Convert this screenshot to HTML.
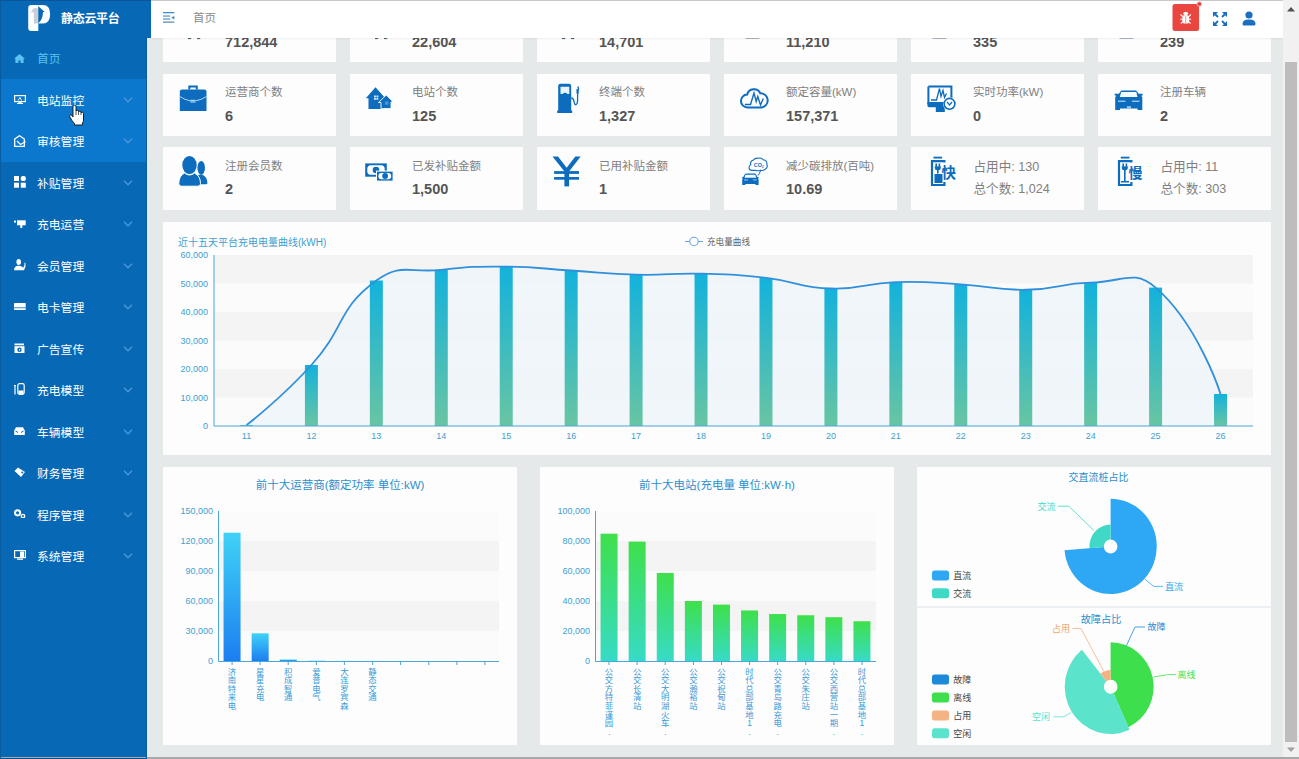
<!DOCTYPE html>
<html lang="zh-CN"><head><meta charset="utf-8"><title>静态云平台</title>
<style>
*{margin:0;padding:0;box-sizing:border-box}
html,body{width:1299px;height:759px;overflow:hidden}
body{position:relative;background:#e6e9ea;font-family:"Liberation Sans","Noto Sans CJK SC",sans-serif}
.a{position:absolute}
.side{left:0;top:0;width:147px;height:759px;background:#0768b5}
.logo{left:0;top:0;width:151px;height:38px;background:#0768b5;border-top:1px solid #0a5497}
.logo .t{left:61px;top:9.5px;font-size:12px;font-weight:bold;color:#fff;letter-spacing:-0.3px;line-height:16px}
.mi{left:0;width:147px;height:41.5px}
.mi .t{left:37px;top:13px;font-size:11.8px;line-height:16px;color:#fff;white-space:nowrap}
.mi svg.ic{position:absolute}
.mi svg.ch{position:absolute;left:122.5px;top:17.3px}
.hdr{left:151px;top:0;width:1132px;height:38px;background:#fff;border-top:1px solid #c8c8c8;box-shadow:0 1px 2px rgba(0,0,0,.06)}
.card{background:#fdfdfd;width:173px;height:62.4px}
.card .t{left:62px;top:10.5px;font-size:11.5px;line-height:16px;color:#808080;white-space:nowrap}
.card .v{left:62px;top:33px;font-size:14.5px;line-height:18px;color:#555555;font-weight:bold;white-space:nowrap}
.card .t2{left:62.5px;font-size:12.6px;line-height:16px;color:#808080;white-space:nowrap}
.card svg{position:absolute}
.panel{background:#fdfdfd}
.sb{left:1283px;top:0;width:16px;height:759px;background:#f1f1f1}
</style></head><body>

<div class="a side"></div>
<div class="a" style="left:0;top:79px;width:146px;height:83px;background:#0b77cd"></div>
<div class="a logo">
<svg class="a" style="left:24px;top:1px" width="28" height="31" viewBox="0 0 28 31">
<path d="M7.2 3 L14.3 3 L14.3 29.1 L7.2 29.1 Q4.2 29.1 4.2 26.1 L4.2 6 Q4.2 3 7.2 3 Z" fill="#fbfdff"/>
<path d="M9.9 6.3 L13.9 6.3 L13.9 21.5 L9.9 21.5 L9.9 10 L7.2 10.6 L7.2 9.4 Z" fill="#c6cfd8"/>
<path d="M14.3 3 L19 3 Q26.1 3 26.1 12.2 Q26.1 21.5 19 21.5 L14.3 21.5 Z" fill="#fbfdff"/>
<path d="M14.3 4.3 L20.5 9.8 L19 10.3 Q18.8 17.5 14.3 21.3 Z" fill="#0768b5"/>
</svg>
<div class="a t">静态云平台</div>
</div>
<div class="a mi" style="top:38.0px">
<svg class="ic" style="left:14px;top:15.7px" width="11" height="9.5" viewBox="0 0 11 9.5"><path d="M5.5 0 L11 4.8 L9.6 4.8 L9.6 9.5 L6.6 9.5 L6.6 6.5 L4.4 6.5 L4.4 9.5 L1.4 9.5 L1.4 4.8 L0 4.8 Z" fill="#5cc3f0"/></svg>
<div class="a t" style="color:#5cc3f0">首页</div>
</div>
<div class="a mi" style="top:79.5px">
<svg class="ic" style="left:14px;top:15.6px" width="12" height="9" viewBox="0 0 12 9"><rect x="0.6" y="0.6" width="10.8" height="6" fill="none" stroke="#fff" stroke-width="1.2"/><path d="M4 5.5 L6 2.5 L7.5 5.5" fill="none" stroke="#fff" stroke-width="0.9"/><rect x="4.5" y="7" width="3" height="1" fill="#fff"/><rect x="3" y="8" width="6" height="1" fill="#fff"/></svg>
<div class="a t" style="color:#fff">电站监控</div>
<svg class="ch" width="10" height="6" viewBox="0 0 10 6"><path d="M1 0.8 L5 4.8 L9 0.8" fill="none" stroke="#4a97da" stroke-width="1.4"/></svg>
</div>
<div class="a mi" style="top:121.0px">
<svg class="ic" style="left:14px;top:13.7px" width="12" height="12" viewBox="0 0 12 12"><path d="M0.7 4 L5.5 0.7 L10.3 4 L10.3 11.3 L0.7 11.3 Z" fill="none" stroke="#fff" stroke-width="1.3"/><path d="M3 6 L6.5 9.5 L11.5 6.5" fill="none" stroke="#fff" stroke-width="1.2"/></svg>
<div class="a t" style="color:#fff">审核管理</div>
<svg class="ch" width="10" height="6" viewBox="0 0 10 6"><path d="M1 0.8 L5 4.8 L9 0.8" fill="none" stroke="#4a97da" stroke-width="1.4"/></svg>
</div>
<div class="a mi" style="top:162.5px">
<svg class="ic" style="left:14px;top:13.6px" width="12" height="12" viewBox="0 0 12 12"><rect x="0" y="0" width="5" height="5" fill="#fff"/><circle cx="9.3" cy="2.5" r="2.6" fill="#fff"/><rect x="0" y="6.7" width="5" height="5" fill="#fff"/><rect x="6.8" y="6.7" width="5" height="5" fill="#fff"/></svg>
<div class="a t" style="color:#fff">补贴管理</div>
<svg class="ch" width="10" height="6" viewBox="0 0 10 6"><path d="M1 0.8 L5 4.8 L9 0.8" fill="none" stroke="#4a97da" stroke-width="1.4"/></svg>
</div>
<div class="a mi" style="top:204.0px">
<svg class="ic" style="left:14px;top:15.8px" width="12" height="8.2" viewBox="0 0 12 8.2"><rect x="0" y="0.6" width="2" height="2" fill="#fff"/><rect x="3" y="0.3" width="8.7" height="5" fill="#fff"/><rect x="6.3" y="5" width="2" height="3" fill="#fff"/></svg>
<div class="a t" style="color:#fff">充电运营</div>
<svg class="ch" width="10" height="6" viewBox="0 0 10 6"><path d="M1 0.8 L5 4.8 L9 0.8" fill="none" stroke="#4a97da" stroke-width="1.4"/></svg>
</div>
<div class="a mi" style="top:245.5px">
<svg class="ic" style="left:14px;top:13.9px" width="12" height="11.5" viewBox="0 0 12 11.5"><ellipse cx="4.7" cy="3" rx="2.3" ry="3" fill="#fff"/><path d="M0 11.3 Q0 7 4.5 6.8 Q8.5 7 9 9 L10.5 6 L10.5 3.8 L11.5 3.8 L11.5 7.5 L10 11.3 Z" fill="#fff"/></svg>
<div class="a t" style="color:#fff">会员管理</div>
<svg class="ch" width="10" height="6" viewBox="0 0 10 6"><path d="M1 0.8 L5 4.8 L9 0.8" fill="none" stroke="#4a97da" stroke-width="1.4"/></svg>
</div>
<div class="a mi" style="top:287.0px">
<svg class="ic" style="left:14px;top:15.8px" width="12" height="7.5" viewBox="0 0 12 7.5"><rect x="0" y="0" width="11.7" height="7.4" rx="0.6" fill="#fff"/><rect x="0" y="4.2" width="11.7" height="1.1" fill="#0768b5" opacity=".7"/></svg>
<div class="a t" style="color:#fff">电卡管理</div>
<svg class="ch" width="10" height="6" viewBox="0 0 10 6"><path d="M1 0.8 L5 4.8 L9 0.8" fill="none" stroke="#4a97da" stroke-width="1.4"/></svg>
</div>
<div class="a mi" style="top:328.5px">
<svg class="ic" style="left:14px;top:14.3px" width="11" height="10.5" viewBox="0 0 11 10.5"><path d="M0.5 0.5 L10 0.5 L10 2.3 L0.5 2.3 Z" fill="#fff"/><rect x="0.5" y="3.2" width="10" height="7.3" fill="#fff"/><circle cx="5.5" cy="6.8" r="2.2" fill="#0768b5"/><path d="M5 5.7 L6.6 6.8 L5 7.9 Z" fill="#fff"/></svg>
<div class="a t" style="color:#fff">广告宣传</div>
<svg class="ch" width="10" height="6" viewBox="0 0 10 6"><path d="M1 0.8 L5 4.8 L9 0.8" fill="none" stroke="#4a97da" stroke-width="1.4"/></svg>
</div>
<div class="a mi" style="top:370.0px">
<svg class="ic" style="left:14px;top:13.2px" width="11" height="12" viewBox="0 0 11 12"><path d="M1 3 L1 11.5 M0 2.5 L2 2.5" stroke="#fff" stroke-width="1.2"/><rect x="3.8" y="0.6" width="6.4" height="10.8" rx="1.8" fill="none" stroke="#fff" stroke-width="1.2"/><rect x="4.5" y="7.5" width="5" height="3.5" fill="#fff"/></svg>
<div class="a t" style="color:#fff">充电模型</div>
<svg class="ch" width="10" height="6" viewBox="0 0 10 6"><path d="M1 0.8 L5 4.8 L9 0.8" fill="none" stroke="#4a97da" stroke-width="1.4"/></svg>
</div>
<div class="a mi" style="top:411.5px">
<svg class="ic" style="left:14px;top:15.5px" width="11" height="8" viewBox="0 0 11 8"><path d="M2 0.3 L9 0.3 L10.5 3 L10.8 3 L10.8 8 L0.2 8 L0.2 3 L0.5 3 Z" fill="#fff"/><path d="M1.5 4 L4 5.5 M9.5 4 L7 5.5" stroke="#0768b5" stroke-width="1"/></svg>
<div class="a t" style="color:#fff">车辆模型</div>
<svg class="ch" width="10" height="6" viewBox="0 0 10 6"><path d="M1 0.8 L5 4.8 L9 0.8" fill="none" stroke="#4a97da" stroke-width="1.4"/></svg>
</div>
<div class="a mi" style="top:453.0px">
<svg class="ic" style="left:14px;top:14.3px" width="11.5" height="10.5" viewBox="0 0 11.5 10.5"><path d="M0.5 4 L4 0.5 L11 5 L7 10 Z" fill="#fff"/><circle cx="8.3" cy="5.6" r="1" fill="#0768b5"/></svg>
<div class="a t" style="color:#fff">财务管理</div>
<svg class="ch" width="10" height="6" viewBox="0 0 10 6"><path d="M1 0.8 L5 4.8 L9 0.8" fill="none" stroke="#4a97da" stroke-width="1.4"/></svg>
</div>
<div class="a mi" style="top:494.5px">
<svg class="ic" style="left:14px;top:14.6px" width="11.5" height="9.2" viewBox="0 0 11.5 9.2"><circle cx="3.6" cy="3.8" r="2.6" fill="none" stroke="#fff" stroke-width="2"/><circle cx="9" cy="7" r="1.7" fill="none" stroke="#fff" stroke-width="1.3"/></svg>
<div class="a t" style="color:#fff">程序管理</div>
<svg class="ch" width="10" height="6" viewBox="0 0 10 6"><path d="M1 0.8 L5 4.8 L9 0.8" fill="none" stroke="#4a97da" stroke-width="1.4"/></svg>
</div>
<div class="a mi" style="top:536.0px">
<svg class="ic" style="left:14px;top:14.3px" width="12" height="10" viewBox="0 0 12 10"><rect x="0.6" y="0.6" width="10.8" height="7" fill="none" stroke="#fff" stroke-width="1.2"/><rect x="6" y="1.5" width="4" height="5.5" fill="#fff"/><rect x="3" y="8.5" width="6" height="1.3" fill="#fff"/></svg>
<div class="a t" style="color:#fff">系统管理</div>
<svg class="ch" width="10" height="6" viewBox="0 0 10 6"><path d="M1 0.8 L5 4.8 L9 0.8" fill="none" stroke="#4a97da" stroke-width="1.4"/></svg>
</div>
<svg class="a" style="left:68.5px;top:104.5px" width="16" height="21" viewBox="0 0 16 21"><path d="M4 1.5 Q4 0.3 5.5 0.3 Q7 0.3 7 1.5 L7 6 Q7 5.2 8.2 5.2 Q9.5 5.2 9.5 6.4 L9.5 7 Q9.5 6.2 10.7 6.2 Q12 6.2 12 7.4 L12 8 Q12 7.2 13.2 7.2 Q14.5 7.2 14.5 8.4 L14.5 15 Q14.5 17 13.5 18 L13.5 20 L5.5 20 L5.5 18.5 Q4.5 17.5 3 15.5 L0.8 12 Q0.2 10.5 1.5 10 Q2.5 9.8 3.3 11 L4 12 Z" fill="#fff" stroke="#111" stroke-width="0.9"/><path d="M7 6 L7 10 M9.5 7 L9.5 10 M12 8 L12 10" stroke="#111" stroke-width="0.7"/></svg>
<div class="a card" style="left:163px;top:0.0px">
<svg style="left:0;top:0" width="60" height="62" viewBox="0 0 60 62"><rect x="25" y="37.6" width="3.2" height="1.5" fill="#4d6670"/><rect x="34" y="37.6" width="3.2" height="1.5" fill="#4d6670"/></svg>
<div class="a v">712,844</div>
</div>
<div class="a card" style="left:350px;top:0.0px">
<svg style="left:0;top:0" width="60" height="62" viewBox="0 0 60 62"><rect x="25" y="37.6" width="3.2" height="1.5" fill="#4d6670"/><rect x="34" y="37.6" width="3.2" height="1.5" fill="#4d6670"/></svg>
<div class="a v">22,604</div>
</div>
<div class="a card" style="left:537px;top:0.0px">
<svg style="left:0;top:0" width="60" height="62" viewBox="0 0 60 62"><rect x="25" y="37.6" width="3.2" height="1.5" fill="#4d6670"/><rect x="34" y="37.6" width="3.2" height="1.5" fill="#4d6670"/></svg>
<div class="a v">14,701</div>
</div>
<div class="a card" style="left:724px;top:0.0px">
<svg style="left:0;top:0" width="60" height="62" viewBox="0 0 60 62"><rect x="21.6" y="37.6" width="13.8" height="1.4" fill="#aab4bc"/></svg>
<div class="a v">11,210</div>
</div>
<div class="a card" style="left:911px;top:0.0px">
<svg style="left:0;top:0" width="60" height="62" viewBox="0 0 60 62"><rect x="21.6" y="37.6" width="13.8" height="1.4" fill="#aab4bc"/></svg>
<div class="a v">335</div>
</div>
<div class="a card" style="left:1098px;top:0.0px">
<svg style="left:0;top:0" width="60" height="62" viewBox="0 0 60 62"><rect x="21.6" y="37.6" width="13.8" height="1.4" fill="#aab4bc"/></svg>
<div class="a v">239</div>
</div>
<div class="a card" style="left:163px;top:73.5px">
<svg style="left:0;top:0" width="60" height="62" viewBox="0 0 60 62"><path d="M26.3 15.5 L26.3 12.5 L33.8 12.5 L33.8 15.5" fill="none" stroke="#0d6cbd" stroke-width="2"/><path d="M16.8 17.5 Q16.8 15.5 19 15.5 L41.3 15.5 Q43.5 15.5 43.5 17.5 L43.5 37.1 L16.8 37.1 Z" fill="#0d6cbd"/><path d="M16.8 22.5 Q22 26 27 26.8 M33 26.8 Q38 26 43.5 22.5" fill="none" stroke="#bfe3ff" stroke-width="0.9"/><rect x="27.3" y="25.8" width="5.2" height="2.7" fill="#bfe3ff"/><rect x="27.3" y="26.9" width="5.2" height="0.5" fill="#0d6cbd"/></svg>
<div class="a t">运营商个数</div>
<div class="a v">6</div>
</div>
<div class="a card" style="left:350px;top:73.5px">
<svg style="left:0;top:0" width="60" height="62" viewBox="0 0 60 62"><path d="M15.8 24.3 L25.5 13.3 L34 22.8 L34 35.1 L18.5 35.1 L18.5 24.3 Z" fill="#0d6cbd"/><path d="M28.5 28.5 L36.3 21 L43.2 28 L41 28 L41 34.6 L31 34.6 L31 28.5 Z" fill="#0d6cbd" stroke="#fff" stroke-width="0.9" stroke-linejoin="miter"/><rect x="24" y="21.5" width="1.9" height="1.9" fill="#cfe8ff"/><rect x="26.4" y="21.5" width="1.9" height="1.9" fill="#cfe8ff"/><rect x="24" y="23.9" width="1.9" height="1.9" fill="#cfe8ff"/><rect x="26.4" y="23.9" width="1.9" height="1.9" fill="#cfe8ff"/><rect x="35" y="27.5" width="3.4" height="3.2" fill="#4d97d6"/></svg>
<div class="a t">电站个数</div>
<div class="a v">125</div>
</div>
<div class="a card" style="left:537px;top:73.5px">
<svg style="left:0;top:0" width="60" height="62" viewBox="0 0 60 62"><path d="M21.2 12 Q21.2 9.8 23.4 9.8 L32 9.8 Q34.2 9.8 34.2 12 L34.2 36.5 L35.2 36.5 L35.2 39.1 L20.2 39.1 L20.2 36.5 L21.2 36.5 Z" fill="#0d6cbd"/><path d="M23.5 12.8 L32.3 12.8 L32.3 20 L30.5 20 Q28 17.5 25.5 20 L23.5 20 Z" fill="#e8f4fd"/><path d="M34.2 24 Q36.5 24 37 27.5 Q37.6 31.5 39.3 30.5 Q40.6 29.5 40.6 26 L40.6 17 L41.6 14.5 L40.8 12.5" fill="none" stroke="#0d6cbd" stroke-width="1.3"/><rect x="39.5" y="15" width="2.2" height="4.5" fill="#0d6cbd"/></svg>
<div class="a t">终端个数</div>
<div class="a v">1,327</div>
</div>
<div class="a card" style="left:724px;top:73.5px">
<svg style="left:0;top:0" width="60" height="62" viewBox="0 0 60 62"><path d="M23.5 33.4 A6.4 6.4 0 0 1 23.2 20.6 A7 7 0 0 1 36.3 19.3 A7 7 0 0 1 37 33.4 Z" fill="none" stroke="#0d6cbd" stroke-width="2"/><path d="M20.9 30.5 L26.5 30.5 L30 19 L32.2 27.5 L33.8 22.5 L36.5 31 L39.3 24.5" fill="none" stroke="#0d6cbd" stroke-width="1.4" stroke-linejoin="miter"/></svg>
<div class="a t">额定容量(kW)</div>
<div class="a v">157,371</div>
</div>
<div class="a card" style="left:911px;top:73.5px">
<svg style="left:0;top:0" width="60" height="62" viewBox="0 0 60 62"><path d="M17.4 12.6 L40.4 12.6 L40.4 28.5" fill="none" stroke="#0d6cbd" stroke-width="2"/><path d="M17.4 12.6 L17.4 30" fill="none" stroke="#0d6cbd" stroke-width="2"/><path d="M16.4 27.9 L34 27.9 L34 33.2 L18 33.2 Q16.4 33.2 16.4 31.6 Z" fill="#0d6cbd"/><rect x="24.8" y="33" width="9" height="5" fill="#0d6cbd"/><path d="M20 26 L25.5 26 L28.5 14.5 L30 22.5 L32 16.5 L33.5 23.5 L35.5 19.5" fill="none" stroke="#0d6cbd" stroke-width="1.3"/><circle cx="38.5" cy="29.8" r="6.6" fill="#fff"/><circle cx="38.5" cy="29.8" r="5.4" fill="none" stroke="#0d6cbd" stroke-width="1.6"/><path d="M36 28 L38.5 31 L41 28" fill="none" stroke="#0d6cbd" stroke-width="1.2"/></svg>
<div class="a t">实时功率(kW)</div>
<div class="a v">0</div>
</div>
<div class="a card" style="left:1098px;top:73.5px">
<svg style="left:0;top:0" width="60" height="62" viewBox="0 0 60 62"><path d="M22.5 17.5 Q23 16.6 24 16.6 L37.5 16.6 Q38.5 16.6 39 17.5 L40.6 19.7 L44.7 19.7 L44.7 21.5 L43.3 21.5 L44.3 23.5 L44.3 36 L39.5 36 L39.5 34.4 L22 34.4 L22 36 L17.2 36 L17.2 23.5 L18.2 21.5 L16.7 21.5 L16.7 19.7 L20.9 19.7 Z" fill="#0d6cbd"/><path d="M23.2 18 L38.3 18 L39.5 23 L21.8 23 Z" fill="#f2f9ff"/><rect x="20" y="26.6" width="7.5" height="1.3" fill="#9fd0f5"/><rect x="34" y="26.6" width="7.5" height="1.3" fill="#9fd0f5"/><rect x="29" y="32.3" width="4" height="2" fill="#9fd0f5"/></svg>
<div class="a t">注册车辆</div>
<div class="a v">2</div>
</div>
<div class="a card" style="left:163px;top:147.3px">
<svg style="left:0;top:0" width="60" height="62" viewBox="0 0 60 62"><ellipse cx="38.2" cy="20.8" rx="3.8" ry="6.9" fill="#0d6cbd"/><path d="M33 30 Q37 26.5 40 28 Q44.4 30.5 44.4 36 Q44.4 37.2 43.2 37.2 L36 37.2 Z" fill="#0d6cbd"/><ellipse cx="26.5" cy="18.1" rx="7.2" ry="9" fill="#0d6cbd" stroke="#fff" stroke-width="1"/><path d="M21.5 26 Q24 28 26.5 28 Q29 28 31.5 26 Q37.5 29 37.5 36.5 Q37.5 39.2 35 39.2 L18.3 39.2 Q15.8 39.2 15.8 36.5 Q15.8 29 21.5 26 Z" fill="#0d6cbd" stroke="#fff" stroke-width="1"/><ellipse cx="26.5" cy="18.1" rx="7.2" ry="9" fill="#0d6cbd"/></svg>
<div class="a t">注册会员数</div>
<div class="a v">2</div>
</div>
<div class="a card" style="left:350px;top:147.3px">
<svg style="left:0;top:0" width="60" height="62" viewBox="0 0 60 62"><rect x="15.2" y="16.4" width="21.6" height="13.3" fill="#0d6cbd"/><rect x="17.3" y="18.3" width="17.4" height="9.5" rx="3.5" fill="#fff"/><circle cx="26" cy="23" r="3.3" fill="#0d6cbd"/><rect x="26.5" y="24.1" width="16.6" height="10" fill="#0d6cbd" stroke="#fff" stroke-width="1"/><rect x="28.4" y="26" width="12.8" height="6.2" rx="3" fill="#fff"/><circle cx="35.1" cy="29" r="2.9" fill="#0d6cbd"/></svg>
<div class="a t">已发补贴金额</div>
<div class="a v">1,500</div>
</div>
<div class="a card" style="left:537px;top:147.3px">
<svg style="left:0;top:0" width="60" height="62" viewBox="0 0 60 62"><path d="M15.5 9.5 L21 9.5 L29.7 20.7 L38.3 9.5 L43.7 9.5 L32.2 24.3 L27.3 24.3 Z" fill="#0d6cbd"/><rect x="27.4" y="22" width="4.7" height="17.4" fill="#0d6cbd"/><rect x="17.1" y="24.1" width="24.9" height="2.8" fill="#0d6cbd"/><rect x="17.1" y="30" width="24.9" height="2.7" fill="#0d6cbd"/></svg>
<div class="a t">已用补贴金额</div>
<div class="a v">1</div>
</div>
<div class="a card" style="left:724px;top:147.3px">
<svg style="left:0;top:0" width="60" height="62" viewBox="0 0 60 62"><path d="M28 23.4 Q25 23.4 25 20.6 Q25 18.3 26.8 17.8 Q25.8 14 29.5 13 Q31 10.6 34.5 11.2 Q37.5 10.4 39.2 12.8 Q43.4 13.4 42.8 17.3 Q44.2 20.2 41.4 22.2 Q39.5 24 36.5 23.2 Q34 24.4 31.5 23.2 Z" fill="#fff" stroke="#0d6cbd" stroke-width="1.1"/><text x="29.8" y="20.4" font-size="5.4" font-family="Liberation Sans" font-weight="bold" fill="#0d6cbd">CO<tspan font-size="3" dy="0.8">2</tspan></text><path d="M36.5 23.5 Q36 26.5 34 28.5" fill="none" stroke="#0d6cbd" stroke-width="1"/><path d="M20.5 27.7 Q21 26.6 22.2 26.6 L30.6 26.6 Q31.8 26.6 32.3 27.7 L33.5 30 L34.6 30 L34.6 31.2 L34 31.2 L34.6 32.5 L34.6 38 L31.5 38 L31.5 37 L21.3 37 L21.3 38 L18.2 38 L18.2 32.5 L18.8 31.2 L18.2 31.2 L18.2 30 L19.3 30 Z" fill="#0d6cbd"/><path d="M21.5 27.8 L31.3 27.8 L32.3 30.8 L20.5 30.8 Z" fill="#f2f9ff"/><rect x="20" y="32.5" width="4" height="0.9" fill="#9fd0f5"/><rect x="28.8" y="32.5" width="4" height="0.9" fill="#9fd0f5"/></svg>
<div class="a t">减少碳排放(百吨)</div>
<div class="a v">10.69</div>
</div>
<div class="a card" style="left:911px;top:147.3px">
<svg style="left:0;top:0" width="60" height="62" viewBox="0 0 60 62"><rect x="22.5" y="9.7" width="8.6" height="1.8" fill="#0d6cbd"/><path d="M33.4 15.5 L33.4 14.1 L21 14.1 L21 38 L33.4 38 L33.4 35" fill="none" stroke="#0d6cbd" stroke-width="2.2"/><rect x="24.4" y="16.5" width="1.6" height="3" fill="#0d6cbd"/><rect x="27.6" y="16.5" width="1.6" height="3" fill="#0d6cbd"/><path d="M23.8 19.2 L29.8 19.2 L29.8 21 Q29.8 23.2 27.5 23.2 L26.1 23.2 Q23.8 23.2 23.8 21 Z" fill="#0d6cbd"/><rect x="26" y="23" width="1.6" height="3.5" fill="#0d6cbd"/><rect x="23.5" y="27" width="8" height="9" fill="#0d6cbd"/><text x="30.6" y="30.7" font-size="14.5" font-family="Noto Sans CJK SC" font-weight="bold" fill="#0d6cbd">快</text></svg>
<div class="a t2" style="top:12px">占用中: 130</div>
<div class="a t2" style="top:34px">总个数: 1,024</div>
</div>
<div class="a card" style="left:1098px;top:147.3px">
<svg style="left:0;top:0" width="60" height="62" viewBox="0 0 60 62"><rect x="22.8" y="9.7" width="8.6" height="1.8" fill="#0d6cbd"/><path d="M33.4 15.5 L33.4 14.1 L21 14.1 L21 38 L33.4 38 L33.4 35" fill="none" stroke="#0d6cbd" stroke-width="2.2"/><rect x="24.4" y="16.5" width="1.6" height="3" fill="#0d6cbd"/><rect x="27.6" y="16.5" width="1.6" height="3" fill="#0d6cbd"/><path d="M23.8 19.2 L29.8 19.2 L29.8 21 Q29.8 23.2 27.5 23.2 L26.1 23.2 Q23.8 23.2 23.8 21 Z" fill="#0d6cbd"/><rect x="26" y="23" width="1.6" height="11" fill="#0d6cbd"/><rect x="23" y="34" width="8" height="1.5" fill="#0d6cbd"/><text x="30.6" y="30.7" font-size="14" font-family="Noto Sans CJK SC" font-weight="bold" fill="#0d6cbd">慢</text></svg>
<div class="a t2" style="top:12px">占用中: 11</div>
<div class="a t2" style="top:34px">总个数: 303</div>
</div>
<div class="a panel" style="left:163px;top:222px;width:1108px;height:233px"></div>
<svg class="a" style="left:0;top:0" width="1299" height="759" viewBox="0 0 1299 759">
<defs><linearGradient id="g1" x1="0" y1="0" x2="0" y2="1"><stop offset="0" stop-color="#13b2dc"/><stop offset="1" stop-color="#68c5a3"/></linearGradient><linearGradient id="g2" x1="0" y1="0" x2="0" y2="1"><stop offset="0" stop-color="#40d2f7"/><stop offset="1" stop-color="#1c7ef0"/></linearGradient><linearGradient id="g3" x1="0" y1="0" x2="0" y2="1"><stop offset="0" stop-color="#3ee04a"/><stop offset="1" stop-color="#37dbc6"/></linearGradient></defs>
<rect x="214" y="397.50" width="1039" height="28.50" fill="#fbfbfb"/>
<rect x="214" y="369.00" width="1039" height="28.50" fill="#f4f4f4"/>
<rect x="214" y="340.50" width="1039" height="28.50" fill="#fbfbfb"/>
<rect x="214" y="312.00" width="1039" height="28.50" fill="#f4f4f4"/>
<rect x="214" y="283.50" width="1039" height="28.50" fill="#fbfbfb"/>
<rect x="214" y="255.00" width="1039" height="28.50" fill="#f4f4f4"/>
<path d="M246.47 425.14 C246.47 425.14 281.94 397.82 311.41 365.01 C346.88 325.50 336.20 309.93 376.34 280.51 C401.14 262.34 408.61 273.30 441.28 269.82 C473.55 266.39 473.76 266.51 506.22 266.69 C538.70 266.86 538.69 268.50 571.16 270.50 C603.63 272.51 603.59 273.89 636.09 274.69 C668.53 275.49 668.59 272.89 701.03 273.70 C733.53 274.50 733.68 274.24 765.97 277.91 C798.62 281.63 798.30 287.44 830.91 288.49 C863.24 289.52 863.31 283.11 895.84 282.07 C928.24 281.04 928.36 282.43 960.78 284.36 C993.30 286.28 993.29 290.18 1025.72 289.77 C1058.23 289.36 1058.14 283.24 1090.66 282.70 C1123.08 282.16 1133.31 268.51 1155.59 287.60 C1198.25 324.15 1220.53 393.99 1220.53 393.99 L1220.53 426 L246.47 426 Z" fill="#eff4fa" fill-opacity="0.85"/>
<rect x="239.97" y="425.14" width="13" height="0.86" fill="url(#g1)"/>
<rect x="304.91" y="365.01" width="13" height="60.99" fill="url(#g1)"/>
<rect x="369.84" y="280.51" width="13" height="145.49" fill="url(#g1)"/>
<rect x="434.78" y="269.82" width="13" height="156.18" fill="url(#g1)"/>
<rect x="499.72" y="266.69" width="13" height="159.31" fill="url(#g1)"/>
<rect x="564.66" y="270.50" width="13" height="155.50" fill="url(#g1)"/>
<rect x="629.59" y="274.69" width="13" height="151.31" fill="url(#g1)"/>
<rect x="694.53" y="273.70" width="13" height="152.30" fill="url(#g1)"/>
<rect x="759.47" y="277.91" width="13" height="148.09" fill="url(#g1)"/>
<rect x="824.41" y="288.49" width="13" height="137.51" fill="url(#g1)"/>
<rect x="889.34" y="282.07" width="13" height="143.93" fill="url(#g1)"/>
<rect x="954.28" y="284.36" width="13" height="141.64" fill="url(#g1)"/>
<rect x="1019.22" y="289.77" width="13" height="136.23" fill="url(#g1)"/>
<rect x="1084.16" y="282.70" width="13" height="143.30" fill="url(#g1)"/>
<rect x="1149.09" y="287.60" width="13" height="138.40" fill="url(#g1)"/>
<rect x="1214.03" y="393.99" width="13" height="32.01" fill="url(#g1)"/>
<path d="M246.47 425.14 C246.47 425.14 281.94 397.82 311.41 365.01 C346.88 325.50 336.20 309.93 376.34 280.51 C401.14 262.34 408.61 273.30 441.28 269.82 C473.55 266.39 473.76 266.51 506.22 266.69 C538.70 266.86 538.69 268.50 571.16 270.50 C603.63 272.51 603.59 273.89 636.09 274.69 C668.53 275.49 668.59 272.89 701.03 273.70 C733.53 274.50 733.68 274.24 765.97 277.91 C798.62 281.63 798.30 287.44 830.91 288.49 C863.24 289.52 863.31 283.11 895.84 282.07 C928.24 281.04 928.36 282.43 960.78 284.36 C993.30 286.28 993.29 290.18 1025.72 289.77 C1058.23 289.36 1058.14 283.24 1090.66 282.70 C1123.08 282.16 1133.31 268.51 1155.59 287.60 C1198.25 324.15 1220.53 393.99 1220.53 393.99" fill="none" stroke="#3190dc" stroke-width="1.8"/>
<path d="M214 255 L214 426 L1253 426" fill="none" stroke="#49a6d6" stroke-width="1"/>
<g font-family="Liberation Sans" font-size="9" fill="#42a0d0">
<text x="208" y="426.00" text-anchor="end" dominant-baseline="central">0</text>
<text x="208" y="397.50" text-anchor="end" dominant-baseline="central">10,000</text>
<text x="208" y="369.00" text-anchor="end" dominant-baseline="central">20,000</text>
<text x="208" y="340.50" text-anchor="end" dominant-baseline="central">30,000</text>
<text x="208" y="312.00" text-anchor="end" dominant-baseline="central">40,000</text>
<text x="208" y="283.50" text-anchor="end" dominant-baseline="central">50,000</text>
<text x="208" y="255.00" text-anchor="end" dominant-baseline="central">60,000</text>
<text x="246.47" y="439" text-anchor="middle">11</text>
<text x="311.41" y="439" text-anchor="middle">12</text>
<text x="376.34" y="439" text-anchor="middle">13</text>
<text x="441.28" y="439" text-anchor="middle">14</text>
<text x="506.22" y="439" text-anchor="middle">15</text>
<text x="571.16" y="439" text-anchor="middle">16</text>
<text x="636.09" y="439" text-anchor="middle">17</text>
<text x="701.03" y="439" text-anchor="middle">18</text>
<text x="765.97" y="439" text-anchor="middle">19</text>
<text x="830.91" y="439" text-anchor="middle">20</text>
<text x="895.84" y="439" text-anchor="middle">21</text>
<text x="960.78" y="439" text-anchor="middle">22</text>
<text x="1025.72" y="439" text-anchor="middle">23</text>
<text x="1090.66" y="439" text-anchor="middle">24</text>
<text x="1155.59" y="439" text-anchor="middle">25</text>
<text x="1220.53" y="439" text-anchor="middle">26</text>
</g>
<text x="178" y="245.5" font-family="Liberation Sans,Noto Sans CJK SC" font-size="10" fill="#42a0d0">近十五天平台充电电量曲线(kWH)</text>
<path d="M685 241.5 L703 241.5" stroke="#6aa6e3" stroke-width="1"/><circle cx="694" cy="241.5" r="4.2" fill="#fff" stroke="#6aa6e3" stroke-width="1.1"/>
<text x="707" y="244.5" font-family="Liberation Sans,Noto Sans CJK SC" font-size="8.6" fill="#666">充电量曲线</text>
<rect x="163" y="467" width="354" height="278" fill="#fdfdfd"/>
<rect x="540" y="467" width="354" height="278" fill="#fdfdfd"/>
<rect x="917" y="467" width="354" height="278" fill="#fdfdfd"/>
<rect x="917" y="606" width="354" height="2" fill="#edf0f2"/>
<text x="340.0" y="489" text-anchor="middle" font-family="Liberation Sans,Noto Sans CJK SC" font-size="11.5" fill="#2a8fcf">前十大运营商(额定功率 单位:kW)</text>
<rect x="218.0" y="631.00" width="281.0" height="30.00" fill="#fbfbfb"/>
<rect x="218.0" y="601.00" width="281.0" height="30.00" fill="#f4f4f4"/>
<rect x="218.0" y="571.00" width="281.0" height="30.00" fill="#fbfbfb"/>
<rect x="218.0" y="541.00" width="281.0" height="30.00" fill="#f4f4f4"/>
<rect x="218.0" y="511.00" width="281.0" height="30.00" fill="#fbfbfb"/>
<rect x="223.55" y="532.70" width="17" height="128.30" fill="url(#g2)"/>
<rect x="251.65" y="633.30" width="17" height="27.70" fill="url(#g2)"/>
<rect x="279.75" y="659.50" width="17" height="1.50" fill="url(#g2)"/>
<rect x="307.85" y="660.70" width="17" height="0.30" fill="url(#g2)"/>
<rect x="335.95" y="660.90" width="17" height="0.10" fill="url(#g2)"/>
<rect x="364.05" y="660.92" width="17" height="0.08" fill="url(#g2)"/>
<rect x="392.15" y="661.00" width="17" height="0.00" fill="url(#g2)"/>
<rect x="420.25" y="661.00" width="17" height="0.00" fill="url(#g2)"/>
<rect x="448.35" y="661.00" width="17" height="0.00" fill="url(#g2)"/>
<rect x="476.45" y="661.00" width="17" height="0.00" fill="url(#g2)"/>
<path d="M218.5 511.0 L218.5 661.5 L499.0 661.5" fill="none" stroke="#49a6d6" stroke-width="1"/>
<path d="M232.1 661.0 L232.1 665.0 M260.1 661.0 L260.1 665.0 M288.2 661.0 L288.2 665.0 M316.4 661.0 L316.4 665.0 M344.4 661.0 L344.4 665.0 M372.6 661.0 L372.6 665.0 M400.6 661.0 L400.6 665.0 M428.8 661.0 L428.8 665.0 M456.9 661.0 L456.9 665.0 M484.9 661.0 L484.9 665.0 " stroke="#49a6d6" stroke-width="1"/>
<g font-family="Liberation Sans" font-size="9" fill="#42a0d0">
<text x="213.0" y="661.00" text-anchor="end" dominant-baseline="central">0</text>
<text x="213.0" y="631.00" text-anchor="end" dominant-baseline="central">30,000</text>
<text x="213.0" y="601.00" text-anchor="end" dominant-baseline="central">60,000</text>
<text x="213.0" y="571.00" text-anchor="end" dominant-baseline="central">90,000</text>
<text x="213.0" y="541.00" text-anchor="end" dominant-baseline="central">120,000</text>
<text x="213.0" y="511.00" text-anchor="end" dominant-baseline="central">150,000</text>
</g>
<g font-family="Liberation Sans,Noto Sans CJK SC">
<text x="232.05" y="674.50" text-anchor="middle" font-size="8.4" fill="#3a9ad6">济</text><text x="232.05" y="683.10" text-anchor="middle" font-size="8.4" fill="#3a9ad6">南</text><text x="232.05" y="691.70" text-anchor="middle" font-size="8.4" fill="#3a9ad6">特</text><text x="232.05" y="700.30" text-anchor="middle" font-size="8.4" fill="#3a9ad6">来</text><text x="232.05" y="708.90" text-anchor="middle" font-size="8.4" fill="#3a9ad6">电</text>
<text x="260.15" y="674.50" text-anchor="middle" font-size="8.4" fill="#3a9ad6">星</text><text x="260.15" y="683.10" text-anchor="middle" font-size="8.4" fill="#3a9ad6">星</text><text x="260.15" y="691.70" text-anchor="middle" font-size="8.4" fill="#3a9ad6">充</text><text x="260.15" y="700.30" text-anchor="middle" font-size="8.4" fill="#3a9ad6">电</text>
<text x="288.25" y="674.50" text-anchor="middle" font-size="8.4" fill="#3a9ad6">积</text><text x="288.25" y="683.10" text-anchor="middle" font-size="8.4" fill="#3a9ad6">成</text><text x="288.25" y="691.70" text-anchor="middle" font-size="8.4" fill="#3a9ad6">智</text><text x="288.25" y="700.30" text-anchor="middle" font-size="8.4" fill="#3a9ad6">通</text>
<text x="316.35" y="674.50" text-anchor="middle" font-size="8.4" fill="#3a9ad6">爱</text><text x="316.35" y="683.10" text-anchor="middle" font-size="8.4" fill="#3a9ad6">普</text><text x="316.35" y="691.70" text-anchor="middle" font-size="8.4" fill="#3a9ad6">电</text><text x="316.35" y="700.30" text-anchor="middle" font-size="8.4" fill="#3a9ad6">气</text>
<text x="344.45" y="674.50" text-anchor="middle" font-size="8.4" fill="#3a9ad6">大</text><text x="344.45" y="683.10" text-anchor="middle" font-size="8.4" fill="#3a9ad6">连</text><text x="344.45" y="691.70" text-anchor="middle" font-size="8.4" fill="#3a9ad6">罗</text><text x="344.45" y="700.30" text-anchor="middle" font-size="8.4" fill="#3a9ad6">宾</text><text x="344.45" y="708.90" text-anchor="middle" font-size="8.4" fill="#3a9ad6">森</text>
<text x="372.55" y="674.50" text-anchor="middle" font-size="8.4" fill="#3a9ad6">静</text><text x="372.55" y="683.10" text-anchor="middle" font-size="8.4" fill="#3a9ad6">态</text><text x="372.55" y="691.70" text-anchor="middle" font-size="8.4" fill="#3a9ad6">交</text><text x="372.55" y="700.30" text-anchor="middle" font-size="8.4" fill="#3a9ad6">通</text>
</g>
<text x="717.0" y="489" text-anchor="middle" font-family="Liberation Sans,Noto Sans CJK SC" font-size="11.5" fill="#2a8fcf">前十大电站(充电量 单位:kW·h)</text>
<rect x="595.0" y="631.00" width="281.0" height="30.00" fill="#fbfbfb"/>
<rect x="595.0" y="601.00" width="281.0" height="30.00" fill="#f4f4f4"/>
<rect x="595.0" y="571.00" width="281.0" height="30.00" fill="#fbfbfb"/>
<rect x="595.0" y="541.00" width="281.0" height="30.00" fill="#f4f4f4"/>
<rect x="595.0" y="511.00" width="281.0" height="30.00" fill="#fbfbfb"/>
<rect x="600.55" y="533.69" width="17" height="127.31" fill="url(#g3)"/>
<rect x="628.65" y="541.60" width="17" height="119.40" fill="url(#g3)"/>
<rect x="656.75" y="572.95" width="17" height="88.05" fill="url(#g3)"/>
<rect x="684.85" y="601.00" width="17" height="60.00" fill="url(#g3)"/>
<rect x="712.95" y="604.60" width="17" height="56.40" fill="url(#g3)"/>
<rect x="741.05" y="610.45" width="17" height="50.55" fill="url(#g3)"/>
<rect x="769.15" y="614.05" width="17" height="46.95" fill="url(#g3)"/>
<rect x="797.25" y="615.25" width="17" height="45.75" fill="url(#g3)"/>
<rect x="825.35" y="617.20" width="17" height="43.80" fill="url(#g3)"/>
<rect x="853.45" y="621.25" width="17" height="39.75" fill="url(#g3)"/>
<path d="M595.5 511.0 L595.5 661.5 L876.0 661.5" fill="none" stroke="#49a6d6" stroke-width="1"/>
<path d="M609.0 661.0 L609.0 665.0 M637.1 661.0 L637.1 665.0 M665.2 661.0 L665.2 665.0 M693.4 661.0 L693.4 665.0 M721.5 661.0 L721.5 665.0 M749.5 661.0 L749.5 665.0 M777.6 661.0 L777.6 665.0 M805.8 661.0 L805.8 665.0 M833.9 661.0 L833.9 665.0 M862.0 661.0 L862.0 665.0 " stroke="#49a6d6" stroke-width="1"/>
<g font-family="Liberation Sans" font-size="9" fill="#42a0d0">
<text x="590.0" y="661.00" text-anchor="end" dominant-baseline="central">0</text>
<text x="590.0" y="631.00" text-anchor="end" dominant-baseline="central">20,000</text>
<text x="590.0" y="601.00" text-anchor="end" dominant-baseline="central">40,000</text>
<text x="590.0" y="571.00" text-anchor="end" dominant-baseline="central">60,000</text>
<text x="590.0" y="541.00" text-anchor="end" dominant-baseline="central">80,000</text>
<text x="590.0" y="511.00" text-anchor="end" dominant-baseline="central">100,000</text>
</g>
<g font-family="Liberation Sans,Noto Sans CJK SC">
<text x="609.05" y="674.50" text-anchor="middle" font-size="8.4" fill="#3a9ad6">公</text><text x="609.05" y="683.10" text-anchor="middle" font-size="8.4" fill="#3a9ad6">交</text><text x="609.05" y="691.70" text-anchor="middle" font-size="8.4" fill="#3a9ad6">方</text><text x="609.05" y="700.30" text-anchor="middle" font-size="8.4" fill="#3a9ad6">特</text><text x="609.05" y="708.90" text-anchor="middle" font-size="8.4" fill="#3a9ad6">菲</text><text x="609.05" y="717.50" text-anchor="middle" font-size="8.4" fill="#3a9ad6">谨</text><text x="609.05" y="726.10" text-anchor="middle" font-size="8.4" fill="#3a9ad6">园</text><text x="609.05" y="734.70" text-anchor="middle" font-size="8.4" fill="#3a9ad6">.</text>
<text x="637.15" y="674.50" text-anchor="middle" font-size="8.4" fill="#3a9ad6">公</text><text x="637.15" y="683.10" text-anchor="middle" font-size="8.4" fill="#3a9ad6">交</text><text x="637.15" y="691.70" text-anchor="middle" font-size="8.4" fill="#3a9ad6">长</text><text x="637.15" y="700.30" text-anchor="middle" font-size="8.4" fill="#3a9ad6">清</text><text x="637.15" y="708.90" text-anchor="middle" font-size="8.4" fill="#3a9ad6">站</text>
<text x="665.25" y="674.50" text-anchor="middle" font-size="8.4" fill="#3a9ad6">公</text><text x="665.25" y="683.10" text-anchor="middle" font-size="8.4" fill="#3a9ad6">交</text><text x="665.25" y="691.70" text-anchor="middle" font-size="8.4" fill="#3a9ad6">大</text><text x="665.25" y="700.30" text-anchor="middle" font-size="8.4" fill="#3a9ad6">明</text><text x="665.25" y="708.90" text-anchor="middle" font-size="8.4" fill="#3a9ad6">湖</text><text x="665.25" y="717.50" text-anchor="middle" font-size="8.4" fill="#3a9ad6">火</text><text x="665.25" y="726.10" text-anchor="middle" font-size="8.4" fill="#3a9ad6">车</text><text x="665.25" y="734.70" text-anchor="middle" font-size="8.4" fill="#3a9ad6">.</text>
<text x="693.35" y="674.50" text-anchor="middle" font-size="8.4" fill="#3a9ad6">公</text><text x="693.35" y="683.10" text-anchor="middle" font-size="8.4" fill="#3a9ad6">交</text><text x="693.35" y="691.70" text-anchor="middle" font-size="8.4" fill="#3a9ad6">瀚</text><text x="693.35" y="700.30" text-anchor="middle" font-size="8.4" fill="#3a9ad6">裕</text><text x="693.35" y="708.90" text-anchor="middle" font-size="8.4" fill="#3a9ad6">站</text>
<text x="721.45" y="674.50" text-anchor="middle" font-size="8.4" fill="#3a9ad6">公</text><text x="721.45" y="683.10" text-anchor="middle" font-size="8.4" fill="#3a9ad6">交</text><text x="721.45" y="691.70" text-anchor="middle" font-size="8.4" fill="#3a9ad6">祝</text><text x="721.45" y="700.30" text-anchor="middle" font-size="8.4" fill="#3a9ad6">甸</text><text x="721.45" y="708.90" text-anchor="middle" font-size="8.4" fill="#3a9ad6">站</text>
<text x="749.55" y="674.50" text-anchor="middle" font-size="8.4" fill="#3a9ad6">时</text><text x="749.55" y="683.10" text-anchor="middle" font-size="8.4" fill="#3a9ad6">代</text><text x="749.55" y="691.70" text-anchor="middle" font-size="8.4" fill="#3a9ad6">总</text><text x="749.55" y="700.30" text-anchor="middle" font-size="8.4" fill="#3a9ad6">部</text><text x="749.55" y="708.90" text-anchor="middle" font-size="8.4" fill="#3a9ad6">基</text><text x="749.55" y="717.50" text-anchor="middle" font-size="8.4" fill="#3a9ad6">地</text><text x="749.55" y="726.10" text-anchor="middle" font-size="8.4" fill="#3a9ad6">1</text><text x="749.55" y="734.70" text-anchor="middle" font-size="8.4" fill="#3a9ad6">.</text>
<text x="777.65" y="674.50" text-anchor="middle" font-size="8.4" fill="#3a9ad6">公</text><text x="777.65" y="683.10" text-anchor="middle" font-size="8.4" fill="#3a9ad6">交</text><text x="777.65" y="691.70" text-anchor="middle" font-size="8.4" fill="#3a9ad6">青</text><text x="777.65" y="700.30" text-anchor="middle" font-size="8.4" fill="#3a9ad6">岛</text><text x="777.65" y="708.90" text-anchor="middle" font-size="8.4" fill="#3a9ad6">路</text><text x="777.65" y="717.50" text-anchor="middle" font-size="8.4" fill="#3a9ad6">充</text><text x="777.65" y="726.10" text-anchor="middle" font-size="8.4" fill="#3a9ad6">电</text><text x="777.65" y="734.70" text-anchor="middle" font-size="8.4" fill="#3a9ad6">.</text>
<text x="805.75" y="674.50" text-anchor="middle" font-size="8.4" fill="#3a9ad6">公</text><text x="805.75" y="683.10" text-anchor="middle" font-size="8.4" fill="#3a9ad6">交</text><text x="805.75" y="691.70" text-anchor="middle" font-size="8.4" fill="#3a9ad6">朱</text><text x="805.75" y="700.30" text-anchor="middle" font-size="8.4" fill="#3a9ad6">庄</text><text x="805.75" y="708.90" text-anchor="middle" font-size="8.4" fill="#3a9ad6">站</text>
<text x="833.85" y="674.50" text-anchor="middle" font-size="8.4" fill="#3a9ad6">公</text><text x="833.85" y="683.10" text-anchor="middle" font-size="8.4" fill="#3a9ad6">交</text><text x="833.85" y="691.70" text-anchor="middle" font-size="8.4" fill="#3a9ad6">西</text><text x="833.85" y="700.30" text-anchor="middle" font-size="8.4" fill="#3a9ad6">营</text><text x="833.85" y="708.90" text-anchor="middle" font-size="8.4" fill="#3a9ad6">站</text><text x="833.85" y="717.50" text-anchor="middle" font-size="8.4" fill="#3a9ad6">一</text><text x="833.85" y="726.10" text-anchor="middle" font-size="8.4" fill="#3a9ad6">期</text><text x="833.85" y="734.70" text-anchor="middle" font-size="8.4" fill="#3a9ad6">.</text>
<text x="861.95" y="674.50" text-anchor="middle" font-size="8.4" fill="#3a9ad6">时</text><text x="861.95" y="683.10" text-anchor="middle" font-size="8.4" fill="#3a9ad6">代</text><text x="861.95" y="691.70" text-anchor="middle" font-size="8.4" fill="#3a9ad6">总</text><text x="861.95" y="700.30" text-anchor="middle" font-size="8.4" fill="#3a9ad6">部</text><text x="861.95" y="708.90" text-anchor="middle" font-size="8.4" fill="#3a9ad6">基</text><text x="861.95" y="717.50" text-anchor="middle" font-size="8.4" fill="#3a9ad6">地</text><text x="861.95" y="726.10" text-anchor="middle" font-size="8.4" fill="#3a9ad6">1</text><text x="861.95" y="734.70" text-anchor="middle" font-size="8.4" fill="#3a9ad6">.</text>
</g>
<g font-family="Liberation Sans,Noto Sans CJK SC">
<text x="1098.5" y="481.3" text-anchor="middle" font-size="10" fill="#2a8fcf">交直流桩占比</text>
<g transform="translate(1110.6 546.4) scale(0.97 1)">
<path d="M0.00 -47.60 A47.60 47.60 0 1 1 -47.45 3.82 L-6.98 0.56 A7.00 7.00 0 1 0 0.00 -7.00 Z" fill="#2ea8f4"/>
<path d="M-21.73 1.75 A21.80 21.80 0 0 1 -0.00 -21.80 L-0.00 -7.00 A7.00 7.00 0 0 0 -6.98 0.56 Z" fill="#3fd9c6"/>
</g>
<path d="M1094.1 530.6 L1068.8 506.2 L1058 506.2" fill="none" stroke="#3fd9c6" stroke-width="0.8"/>
<text x="1055.5" y="509.5" text-anchor="end" font-size="9" fill="#3fd9c6">交流</text>
<path d="M1144.9 579.1 L1153.6 586.4 L1163 586.4" fill="none" stroke="#2ea8f4" stroke-width="0.8"/>
<text x="1165" y="589.7" font-size="9" fill="#2ea8f4">直流</text>
<rect x="932" y="570.5" width="17" height="10" rx="2.5" fill="#2ea8f4"/><text x="953.3" y="578.8" font-size="9" fill="#444">直流</text>
<rect x="932" y="588.2" width="17" height="10" rx="2.5" fill="#3fd9c6"/><text x="953.3" y="596.5" font-size="9" fill="#444">交流</text>
<text x="1101" y="622.8" text-anchor="middle" font-size="10.2" fill="#2a8fcf">故障占比</text>
<g transform="translate(1110.6 686.7) scale(0.97 1)">
<path d="M0.00 -44.40 A44.40 44.40 0 0 1 18.34 40.43 L2.89 6.37 A7.00 7.00 0 0 0 0.00 -7.00 Z" fill="#3de04c"/>
<path d="M19.54 43.08 A47.30 47.30 0 0 1 -29.57 -36.91 L-4.38 -5.46 A7.00 7.00 0 0 0 2.89 6.37 Z" fill="#5be3cb"/>
<path d="M-10.50 -13.11 A16.80 16.80 0 0 1 -0.00 -16.80 L-0.00 -7.00 A7.00 7.00 0 0 0 -4.38 -5.46 Z" fill="#f4b382"/>
</g>
<path d="M1126.5 645.6 L1135 627 L1145 627" fill="none" stroke="#1c8ad8" stroke-width="0.8"/>
<text x="1147.5" y="630.3" font-size="9" fill="#1c8ad8">故障</text>
<path d="M1103.7 671.2 L1081 628.5 L1072.4 628.5" fill="none" stroke="#f4b382" stroke-width="0.8"/>
<text x="1070" y="631.8" text-anchor="end" font-size="9" fill="#f0a86e">占用</text>
<path d="M1153.6 677 L1167.8 674.6 L1176 674.6" fill="none" stroke="#3de04c" stroke-width="0.8"/>
<text x="1177.5" y="677.9" font-size="9" fill="#3de04c">离线</text>
<path d="M1071 712.5 L1063.8 716.8 L1053.5 716.8" fill="none" stroke="#5be3cb" stroke-width="0.8"/>
<text x="1050" y="720.1" text-anchor="end" font-size="9" fill="#5be3cb">空闲</text>
<rect x="932" y="674.6" width="17" height="10" rx="2.5" fill="#1c8ad8"/><text x="953.3" y="682.9" font-size="9" fill="#444">故障</text>
<rect x="932" y="692.5" width="17" height="10" rx="2.5" fill="#3de04c"/><text x="953.3" y="700.8" font-size="9" fill="#444">离线</text>
<rect x="932" y="710.4" width="17" height="10" rx="2.5" fill="#f4b382"/><text x="953.3" y="718.7" font-size="9" fill="#444">占用</text>
<rect x="932" y="728.3" width="17" height="10" rx="2.5" fill="#5be3cb"/><text x="953.3" y="736.6" font-size="9" fill="#444">空闲</text>
</g>
</svg>
<div class="a hdr">
<svg class="a" style="left:12px;top:11px" width="12" height="11" viewBox="0 0 12 11">
<rect x="0" y="0" width="11.3" height="1.3" fill="#3d8fd4"/><rect x="0" y="3.5" width="7.2" height="1.1" fill="#4f86b8"/>
<rect x="0" y="6.5" width="7.2" height="1.1" fill="#4f86b8"/><rect x="0" y="9.5" width="11.3" height="1.2" fill="#4f86b8"/>
<path d="M11.3 3.9 L8.3 5.6 L11.3 7.4 Z" fill="#3d7fb8"/></svg>
<div class="a" style="left:42px;top:9.3px;font-size:11.5px;line-height:16px;color:#8a8a8a">首页</div>
<svg class="a" style="left:1020px;top:0px" width="32" height="32" viewBox="0 0 32 32">
<rect x="1.5" y="3" width="26.6" height="27" rx="2.5" fill="#ea4640"/>
<circle cx="28.3" cy="3" r="2.6" fill="#f6b0ad"/><circle cx="28.3" cy="3" r="1.8" fill="#e23a36"/>
<ellipse cx="14.7" cy="12.4" rx="2.4" ry="1.6" fill="#fff"/>
<path d="M11.3 16 Q11.3 14 14.7 14 Q18.1 14 18.1 16 L18.1 21 Q18.1 22.6 14.7 22.6 Q11.3 22.6 11.3 21 Z" fill="#fff"/>
<path d="M9.5 13.5 L11.5 15.5 M9.3 18.3 L11.5 18.3 M9.8 22.5 L11.7 20.8 M19.9 13.5 L17.9 15.5 M20.1 18.3 L17.9 18.3 M19.6 22.5 L17.7 20.8" stroke="#fff" stroke-width="1.1"/>
<path d="M14.7 15 L14.7 22.2" stroke="#f0a9a5" stroke-width="1.2"/></svg>
<svg class="a" style="left:1062px;top:11px" width="14" height="14" viewBox="0 0 14 14">
<g stroke="#1a6fc0" stroke-width="1.8" fill="none"><path d="M1 1 L5 5 M9 5 L13 1 M1 13 L5 9 M9 9 L13 13"/></g>
<g fill="#1a6fc0"><path d="M0 0 L5 0 L0 5 Z M14 0 L9 0 L14 5 Z M0 14 L5 14 L0 9 Z M14 14 L9 14 L14 9 Z"/></g></svg>
<svg class="a" style="left:1091px;top:10px" width="14" height="15" viewBox="0 0 14 15">
<circle cx="7" cy="4" r="3.6" fill="#1a6fc0"/><path d="M0.5 13 Q0.5 8.6 7 8.6 Q13.5 8.6 13.5 13 Q13.5 14.6 12 14.6 L2 14.6 Q0.5 14.6 0.5 13 Z" fill="#1a6fc0"/></svg>
</div>
<div class="a sb"></div>
<div class="a" style="left:1285px;top:62px;width:12px;height:680px;background:#bdbdbd"></div>
<svg class="a" style="left:1285px;top:5px" width="12" height="8" viewBox="0 0 12 8"><path d="M2 6.5 L6 2 L10 6.5 Z" fill="#505050"/></svg>
<svg class="a" style="left:1285px;top:746px" width="12" height="8" viewBox="0 0 12 8"><path d="M2 1.5 L6 6 L10 1.5 Z" fill="#a0a0a0"/></svg>
<div class="a" style="left:0;top:757px;width:1299px;height:2px;background:#a8a8a8"></div>
<div class="a" style="left:0;top:757.5px;width:147px;height:1.5px;background:#0a4f8c"></div>
<div class="a" style="left:0;top:0;width:1px;height:759px;background:#075c9f"></div>
<div class="a" style="left:146px;top:38px;width:1px;height:721px;background:#0a5c9e"></div>
</body></html>
